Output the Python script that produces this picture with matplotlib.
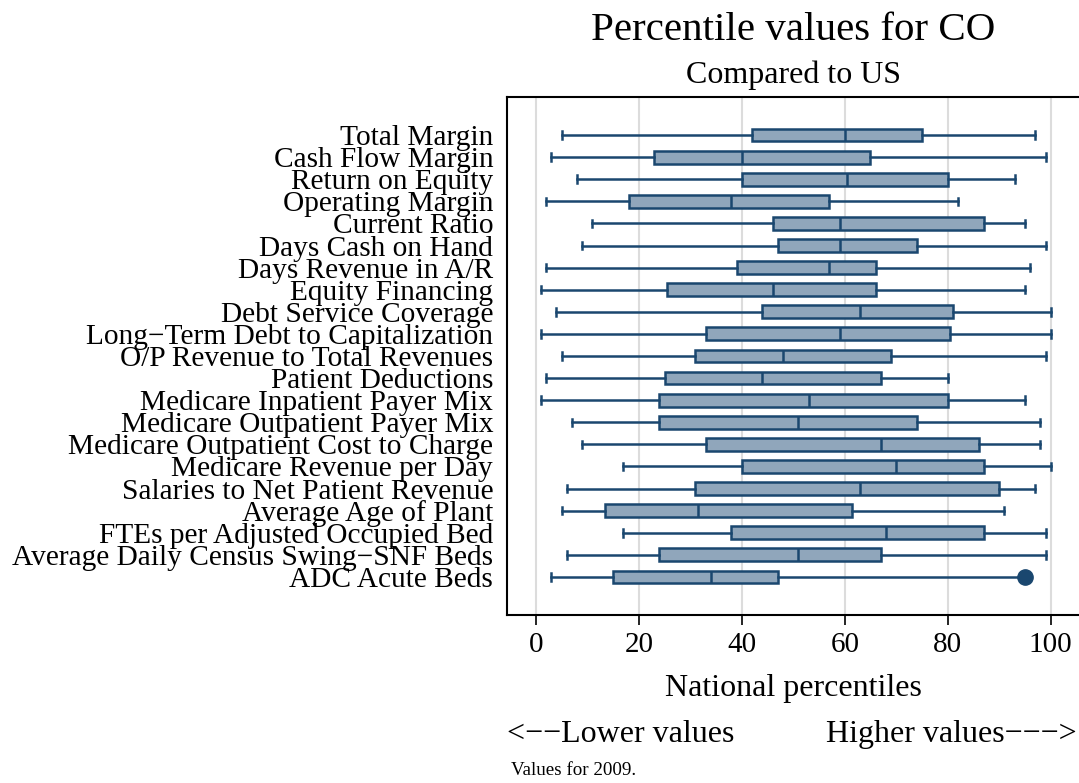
import matplotlib
matplotlib.use("Agg")
import matplotlib.pyplot as plt

plt.rcParams['font.family'] = ['Liberation Serif', 'DejaVu Serif']

# 指標名稱（由上到下）
measures = [
    "Total Margin", "Cash Flow Margin", "Return on Equity", "Operating Margin",
    "Current Ratio", "Days Cash on Hand", "Days Revenue in A/R", "Equity Financing",
    "Debt Service Coverage", "Long\u2212Term Debt to Capitalization",
    "O/P Revenue to Total Revenues", "Patient Deductions",
    "Medicare Inpatient Payer Mix", "Medicare Outpatient Payer Mix",
    "Medicare Outpatient Cost to Charge", "Medicare Revenue per Day",
    "Salaries to Net Patient Revenue", "Average Age of Plant",
    "FTEs per Adjusted Occupied Bed", "Average Daily Census Swing\u2212SNF Beds",
    "ADC Acute Beds",
]

# 盒鬚圖統計量
whisker_lo = [5, 3, 8, 2, 11, 9, 2, 1, 4, 1, 5, 2, 1, 7, 9, 17, 6, 5, 17, 6, 3]
q1 = [42, 23, 40, 18, 46, 47, 39, 25.5, 44, 33, 31, 25, 24, 24, 33, 40, 31, 13.5, 38, 24, 15]
median = [60, 40, 60.5, 38, 59, 59, 57, 46, 63, 59, 48, 44, 53, 51, 67, 70, 63, 31.5, 68, 51, 34]
q3 = [75, 65, 80, 57, 87, 74, 66, 66, 81, 80.5, 69, 67, 80, 74, 86, 87, 90, 61.5, 87, 67, 47]
whisker_hi = [97, 99, 93, 82, 95, 99, 96, 95, 100, 100, 99, 80, 95, 98, 98, 100, 97, 91, 99, 99, 94]
outliers = [[], [], [], [], [], [], [], [], [], [], [], [], [], [], [], [], [], [], [], [], [95]]

navy = "#1a476f"
fill = "#90a6bb"

stats = []
for i, name in enumerate(measures):
    stats.append(dict(label=name, whislo=whisker_lo[i], q1=q1[i], med=median[i],
                      q3=q3[i], whishi=whisker_hi[i], fliers=outliers[i]))

fig = plt.figure(figsize=(10.79, 7.83), dpi=100)
ax = fig.add_axes([0.4699, 0.2146, 0.5301, 0.6615])

positions = list(range(len(measures), 0, -1))
ax.bxp(stats, positions=positions, vert=False, widths=0.58, patch_artist=True,
       showfliers=True, capwidths=0.34,
       boxprops=dict(facecolor=fill, edgecolor=navy, linewidth=1.8),
       medianprops=dict(color=navy, linewidth=1.8),
       whiskerprops=dict(color=navy, linewidth=1.8),
       capprops=dict(color=navy, linewidth=1.8),
       flierprops=dict(marker="o", markerfacecolor=navy, markeredgecolor=navy,
                       markersize=11))

ax.set_xlim(-5.6, 105.5)
ax.set_ylim(1 - 1.72, len(measures) + 1.72)
ax.set_xticks([0, 20, 40, 60, 80, 100])
ax.xaxis.grid(True, color="#dcdcdc", linewidth=1.5)
ax.set_axisbelow(True)
ax.tick_params(axis="x", labelsize=21, length=7, width=1.2, pad=5)
ax.tick_params(axis="y", labelsize=21.2, length=0, pad=10)
for s in ["left", "top", "bottom"]:
    ax.spines[s].set_linewidth(1.5)
ax.spines["right"].set_visible(False)

ax.set_xlabel("National percentiles", fontsize=23, labelpad=12)

fig.text(0.735, 0.961, "Percentile values for CO", ha="center", va="center", fontsize=29.5)
fig.text(0.735, 0.904, "Compared to US", ha="center", va="center", fontsize=23)
fig.text(0.470, 0.062, "<\u2212\u2212Lower values", ha="left", va="center", fontsize=23)
fig.text(0.998, 0.062, "Higher values\u2212\u2212\u2212>", ha="right", va="center", fontsize=23)
fig.text(0.474, 0.016, "Values for 2009.", ha="left", va="center", fontsize=13.7)

fig.savefig("out.png", dpi=100)
plt.close(fig)
